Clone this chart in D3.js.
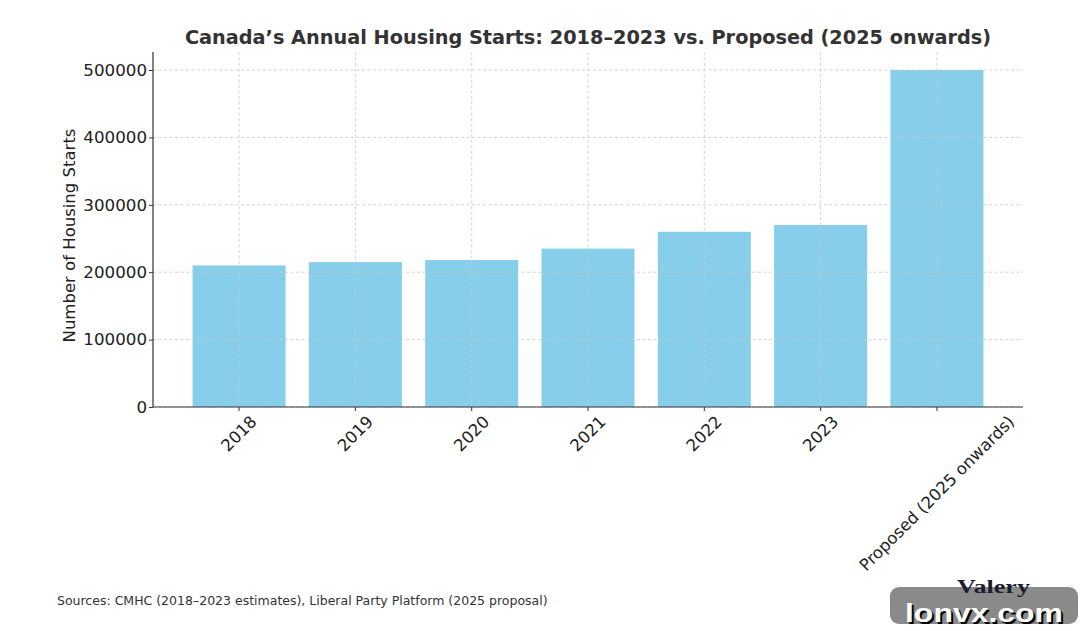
<!DOCTYPE html>
<html><head><meta charset="utf-8">
<script src="https://cdn.jsdelivr.net/npm/d3@7"></script>
<style>body{margin:0;background:#fff;} text{font-family:"DejaVu Sans",sans-serif;}</style>
</head><body>
<svg id="c" width="1080" height="631"></svg>
<script>
const categories = ["2018","2019","2020","2021","2022","2023","Proposed (2025 onwards)"];
const starts = [210000, 215000, 218000, 235000, 260000, 270000, 500000];
const yTicks = [0,100000,200000,300000,400000,500000];

const svg = d3.select("#c");
const L=153, R=1023, T=52, B=407;
const x = d3.scaleLinear().domain([-0.74, 6.74]).range([L, R]);
const y = d3.scaleLinear().domain([0, 526000]).range([B, B - 526000*(337/500000)]);
const bw = x(0.4)-x(-0.4);

// bars
svg.append("g").selectAll("rect").data(starts).join("rect")
  .attr("x",(d,i)=>x(i)-bw/2).attr("width",bw)
  .attr("y",d=>y(d)).attr("height",d=>y(0)-y(d))
  .attr("fill","#87CEEB");

// grid
const g = svg.append("g").attr("stroke","#c8c8c8").attr("stroke-width",0.8).attr("stroke-dasharray","3,2.5");
g.selectAll("line.h").data(yTicks).join("line").attr("x1",L).attr("x2",R).attr("y1",d=>y(d)).attr("y2",d=>y(d));
g.selectAll("line.v").data(categories).join("line").attr("x1",(d,i)=>x(i)).attr("x2",(d,i)=>x(i)).attr("y1",T).attr("y2",B);

// axes
const ya = svg.append("g").attr("transform",`translate(${L},0)`)
  .call(d3.axisLeft(y).tickValues(yTicks).tickFormat(d3.format("d")).tickSize(4).tickPadding(2));
ya.select(".domain").attr("d",`M0,${T}V${B}`).attr("stroke","#333").attr("stroke-width",1.2);
ya.selectAll(".tick line").attr("stroke","#333");
ya.selectAll(".tick text").attr("font-size","16.7px").attr("fill","#222").attr("font-family","DejaVu Sans");

const xa = svg.append("g").attr("transform",`translate(0,${B})`);
xa.append("line").attr("x1",L).attr("x2",R).attr("stroke","#333").attr("stroke-width",1.2);
xa.selectAll("line.t").data(categories).join("line").attr("x1",(d,i)=>x(i)).attr("x2",(d,i)=>x(i)).attr("y1",0).attr("y2",4).attr("stroke","#333");
const fs = 16.5;
xa.selectAll("text.lab").data(categories).join("text")
  .attr("font-size",fs+"px").attr("fill","#222").attr("text-anchor","middle")
  .attr("dominant-baseline","central")
  .text(d=>d)
  .each(function(d,i){
    const w = this.getComputedTextLength();
    const h = (w + fs*1.0)*Math.SQRT1_2;
    const cx = x(i), cy = 6 + h/2;
    d3.select(this).attr("x",cx).attr("y",cy).attr("transform",`rotate(-45,${cx},${cy})`);
  });

// title
svg.append("text").attr("x",(L+R)/2).attr("y",44).attr("text-anchor","middle")
  .attr("font-size","19.3px").attr("font-weight","bold").attr("fill","#333")
  .text("Canada’s Annual Housing Starts: 2018–2023 vs. Proposed (2025 onwards)");

// y label
svg.append("text").attr("transform",`translate(75,${(T+B)/2+6}) rotate(-90)`).attr("text-anchor","middle")
  .attr("font-size","16.5px").attr("fill","#222").text("Number of Housing Starts");

// source
svg.append("text").attr("x",57).attr("y",605).attr("font-size","12.5px").attr("fill","#333")
  .text("Sources: CMHC (2018–2023 estimates), Liberal Party Platform (2025 proposal)");

// watermark
const wm = svg.append("g");
wm.append("rect").attr("x",890).attr("y",587).attr("width",188).attr("height",37).attr("rx",9).attr("fill","#8a8a8a");
wm.append("text").attr("x",957).attr("y",593)
  .style("font-family","'Liberation Serif',serif").style("font-weight","bold").style("font-size","18px")
  .attr("textLength",73).attr("lengthAdjust","spacingAndGlyphs")
  .attr("fill","#1c1c30").text("Valery");
wm.append("text").attr("x",907).attr("y",624)
  .style("font-family","'Liberation Sans',sans-serif").style("font-weight","bold").style("font-size","25px")
  .attr("textLength",158).attr("lengthAdjust","spacingAndGlyphs")
  .attr("fill","#000").text("lonvx.com");
wm.append("text").attr("x",905).attr("y",622)
  .style("font-family","'Liberation Sans',sans-serif").style("font-weight","bold").style("font-size","25px")
  .attr("textLength",158).attr("lengthAdjust","spacingAndGlyphs")
  .attr("fill","#fff").text("lonvx.com");
</script>
</body></html>
